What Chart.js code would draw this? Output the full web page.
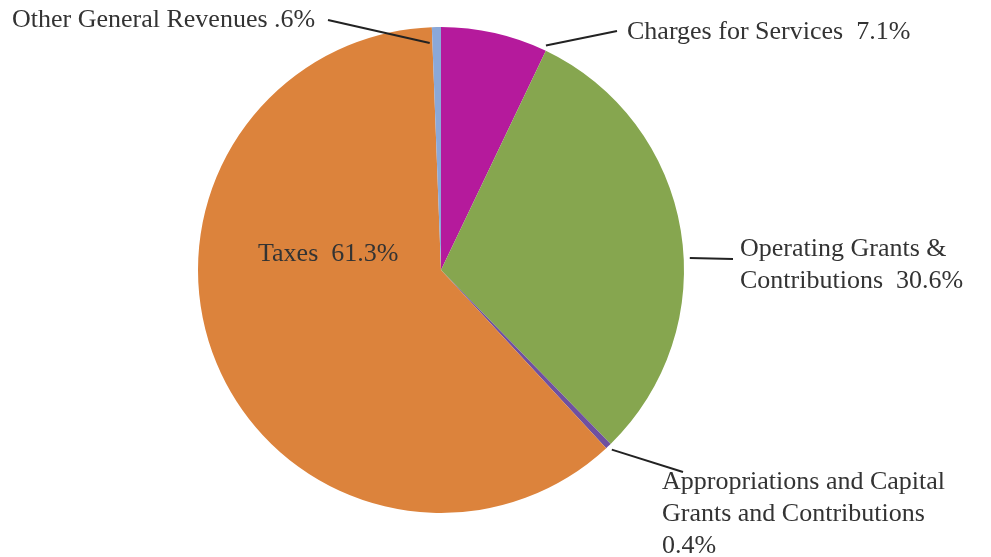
<!DOCTYPE html>
<html>
<head>
<meta charset="utf-8">
<style>
  html, body { margin: 0; padding: 0; background: #fff; }
  #wrap { width: 991px; height: 557px; position: relative; }
</style>
<script src="https://cdn.jsdelivr.net/npm/chart.js@4/dist/chart.umd.min.js"></script>
</head>
<body>
<div id="wrap"><canvas id="revChart" width="991" height="557"></canvas></div>
<script>
// slice data, clockwise from 12 o'clock
const categories = [
  "Charges for Services",
  "Operating Grants & Contributions",
  "Appropriations and Capital Grants and Contributions",
  "Taxes",
  "Other General Revenues"
];
const shares = [7.1, 30.6, 0.4, 61.3, 0.6];
const sliceColors = ["#b51a9c", "#86a64f", "#6f50a0", "#dc833c", "#8ba8d8"];

// text of each label, one entry per line
const labelLines = [
  ["Charges for Services  7.1%"],
  ["Operating Grants &", "Contributions  30.6%"],
  ["Appropriations and Capital", "Grants and Contributions", "0.4%"],
  ["Taxes  61.3%"],
  ["Other General Revenues .6%"]
];

// where each label sits and where its leader line touches the pie
const labelLayout = [
  { x: 627, y: 32, lineTo: [617, 31], at: 0.98, rf: 1.02 },
  { x: 740, y: 249, lineTo: [733, 259], at: 0.56, rf: 1.025 },
  { x: 662, y: 482, lineTo: [683, 472], at: 0.5, rf: 1.02 },
  { x: 258, y: 254, lineTo: null },
  { x: 12, y: 20, lineTo: [328, 20], at: 0.0, rf: 0.935, shift: -0.012 }
];

const labelPlugin = {
  id: "pieLabels",
  afterDraw(chart) {
    const ctx = chart.ctx;
    const arcs = chart.getDatasetMeta(0).data;
    ctx.save();
    ctx.font = "26px 'Liberation Serif', 'Times New Roman', serif";
    ctx.fillStyle = "#333";
    ctx.textBaseline = "middle";
    ctx.textAlign = "left";
    labelLayout.forEach((lay, i) => {
      const arc = arcs[i];
      if (lay.lineTo) {
        const a = arc.startAngle + (arc.endAngle - arc.startAngle) * lay.at + (lay.shift || 0);
        const r = arc.outerRadius * lay.rf;
        const sx = arc.x + Math.cos(a) * r;
        const sy = arc.y + Math.sin(a) * r;
        ctx.beginPath();
        ctx.strokeStyle = "#222";
        ctx.lineWidth = 2;
        ctx.moveTo(sx, sy);
        ctx.lineTo(lay.lineTo[0], lay.lineTo[1]);
        ctx.stroke();
      }
      labelLines[i].forEach((t, k) => {
        ctx.fillText(t, lay.x, lay.y + k * 32);
      });
    });
    ctx.restore();
  }
};

new Chart(document.getElementById("revChart"), {
  type: "pie",
  data: {
    labels: categories,
    datasets: [{
      data: shares,
      backgroundColor: sliceColors,
      borderWidth: 0
    }]
  },
  options: {
    responsive: false,
    animation: false,
    layout: { padding: { left: 198, right: 307, top: 27, bottom: 44 } },
    plugins: {
      legend: { display: false },
      tooltip: { enabled: false }
    }
  },
  plugins: [labelPlugin]
});
</script>
</body>
</html>
